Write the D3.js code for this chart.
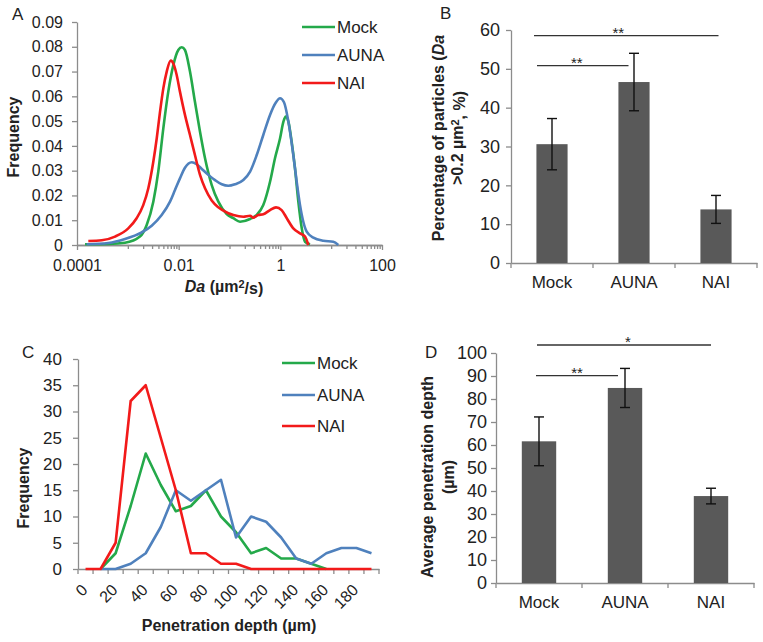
<!DOCTYPE html>
<html><head><meta charset="utf-8">
<script src="https://cdn.jsdelivr.net/npm/d3@7"></script>
<style>
body{margin:0;background:#fff}
svg text{font-family:"Liberation Sans",Arial,sans-serif;fill:#222}
</style></head><body>
<svg id="c" width="763" height="642"></svg>
<script>
// ---------------- DATA ----------------
const groups = ["Mock", "AUNA", "NAI"];

// Panel A: Da (µm²/s) vs frequency
const daMock   = [1.44e-4, 4.13e-4, 8.8e-4, 1.73e-3, 2.35e-3, 3.17e-3, 3.97e-3, 4.99e-3, 6.25e-3, 7.85e-3, 9.84e-3, 0.0115, 0.0133, 0.0167, 0.0209, 0.0263, 0.033, 0.0447, 0.0603, 0.088, 0.119, 0.161, 0.254, 0.343, 0.462, 0.627, 0.785, 0.986, 1.15, 1.28, 1.44, 1.67, 1.94, 2.26, 2.64, 3.06, 3.84];
const freqMock = [0.0003, 0.0004, 0.0009, 0.0034, 0.0081, 0.0175, 0.0296, 0.0471, 0.0619, 0.0726, 0.0787, 0.0798, 0.0787, 0.070, 0.0578, 0.0457, 0.035, 0.0242, 0.0175, 0.0125, 0.0108, 0.0094, 0.0105, 0.0121, 0.0161, 0.0255, 0.035, 0.043, 0.0498, 0.0518, 0.0498, 0.0417, 0.031, 0.0175, 0.0067, 0.0013, 0.0003];
const daAUNA   = [1.55e-4, 4.13e-4, 8.8e-4, 1.87e-3, 2.95e-3, 4.63e-3, 6.76e-3, 8.47e-3, 0.0106, 0.0133, 0.0181, 0.0226, 0.0285, 0.0383, 0.0519, 0.0705, 0.0949, 0.128, 0.187, 0.254, 0.343, 0.462, 0.627, 0.822, 0.986, 1.18, 1.44, 1.80, 2.10, 2.44, 2.83, 3.30, 4.46, 7.01, 11.0, 13.8];
const freqAUNA = [0.0003, 0.0008, 0.0024, 0.0051, 0.0078, 0.0121, 0.0175, 0.0222, 0.0269, 0.0312, 0.0334, 0.0326, 0.0307, 0.0283, 0.0262, 0.0245, 0.0239, 0.0245, 0.0262, 0.0296, 0.0363, 0.0444, 0.0525, 0.0576, 0.0592, 0.0576, 0.0498, 0.0363, 0.0255, 0.0161, 0.0094, 0.0054, 0.003, 0.0017, 0.0013, 0];
const daNAI    = [1.67e-4, 3.06e-4, 5.6e-4, 1.02e-3, 1.49e-3, 2.01e-3, 2.53e-3, 3.17e-3, 3.70e-3, 4.30e-3, 4.99e-3, 5.82e-3, 6.97e-3, 8.09e-3, 9.14e-3, 0.0106, 0.0133, 0.0167, 0.0209, 0.0263, 0.033, 0.0447, 0.0603, 0.0949, 0.119, 0.187, 0.254, 0.294, 0.369, 0.462, 0.627, 0.822, 1.06, 1.34, 1.80, 2.44, 3.06, 3.55];
const freqNAI  = [0.0016, 0.0019, 0.0034, 0.0067, 0.0108, 0.0161, 0.0229, 0.0336, 0.043, 0.0538, 0.0632, 0.070, 0.0744, 0.0726, 0.0686, 0.0619, 0.0525, 0.0444, 0.0363, 0.0283, 0.0229, 0.018, 0.0152, 0.0128, 0.0121, 0.0114, 0.0118, 0.011, 0.0121, 0.0124, 0.0141, 0.0152, 0.0141, 0.0108, 0.0067, 0.0047, 0.0034, 0];
const freqTicks = [0, 0.01, 0.02, 0.03, 0.04, 0.05, 0.06, 0.07, 0.08, 0.09];
const daTicks = [1e-4, 1e-2, 1, 100];
const daTickLabels = ["0.0001", "0.01", "1", "100"];
const daMinorTicks = [0.001, 0.002, 0.003, 0.004, 0.005, 0.006, 0.007, 0.008, 0.009,
                      0.1, 0.2, 0.3, 0.4, 0.5, 0.6, 0.7, 0.8, 0.9,
                      10, 20, 30, 40, 50, 60, 70, 80, 90];

// Panel B: percentage of particles with Da > 0.2
const pctMean = [30.6, 46.6, 13.8];
const pctErr  = [6.6, 7.4, 3.6];
const pctTicks = [0, 10, 20, 30, 40, 50, 60];
const sigB = [["Mock", "NAI", "**"], ["Mock", "AUNA", "**"]];

// Panel C: penetration depth distribution
const depthCats = [0, 10, 20, 30, 40, 50, 60, 70, 80, 90, 100, 110, 120, 130, 140, 150, 160, 170, 180, 190];
const depthMock = [null, 0, 3, 12, 22, 16, 11, 12, 15, 10, 7, 3, 4, 2, 2, 1, 0, null, null, null];
const depthAUNA = [null, 0, 0, 1, 3, 8, 15, 13, 15, 17, 6, 10, 9, 6, 2, 1, 3, 4, 4, 3];
const depthNAI  = [0, 0, 5, 32, 35, 25, 15, 3, 3, 1, 1, 0, 0, 0, 0, 0, 0, 0, 0, 0];
const countTicks = [0, 5, 10, 15, 20, 25, 30, 35, 40];

// Panel D: average penetration depth
const depthMean = [61.6, 84.8, 37.8];
const depthErr  = [10.6, 8.5, 3.4];
const avgTicks = [0, 10, 20, 30, 40, 50, 60, 70, 80, 90, 100];
const sigD = [["Mock", "NAI", "*"], ["Mock", "AUNA", "**"]];

// ---------------- STYLE ----------------
const FONT = '"Liberation Sans", Arial, sans-serif';
const colors = {Mock: "#24a94a", AUNA: "#4f81bd", NAI: "#f21a1a"};
const AXIS = "#8c8c8c";
const svg = d3.select("#c");

function styleAxis(g, size) {
  g.attr("font-family", null).attr("font-size", null);
  g.select(".domain").attr("stroke", AXIS).attr("stroke-width", 1.3);
  g.selectAll(".tick line").attr("stroke", AXIS).attr("stroke-width", 1.3);
  g.selectAll(".tick text").attr("fill", "#222").style("font-family", FONT).style("font-size", size + "px");
}
function label(x, y, t, size) {
  return svg.append("text").attr("x", x).attr("y", y).style("font-size", size + "px").text(t);
}

// ---------------- PANEL A ----------------
const xA = d3.scaleLog().domain([1e-4, 100]).range([77, 382]);
const yA = d3.scaleLinear().domain([0, 0.09]).range([245, 22]);
svg.append("g").attr("transform", "translate(77,0)")
  .call(d3.axisLeft(yA).tickValues(freqTicks).tickFormat(v => v === 0 ? "0" : d3.format(".2f")(v))
    .tickSize(5).tickSizeOuter(0).tickPadding(9))
  .call(styleAxis, 16);
svg.append("g").attr("transform", "translate(0,245)")
  .call(d3.axisBottom(xA).tickValues(daMinorTicks).tickFormat("").tickSize(4).tickSizeOuter(0))
  .call(styleAxis, 16);
svg.append("g").attr("transform", "translate(0,245)")
  .call(d3.axisBottom(xA).tickValues(daTicks).tickFormat((d, i) => daTickLabels[i])
    .tickSize(5).tickSizeOuter(0).tickPadding(10))
  .call(styleAxis, 16);

const lineA = d3.line().x(d => xA(d[0])).y(d => yA(d[1])).curve(d3.curveMonotoneX);
const seriesA = [
  ["Mock", d3.zip(daMock, freqMock)],
  ["AUNA", d3.zip(daAUNA, freqAUNA)],
  ["NAI", d3.zip(daNAI, freqNAI)]
];
svg.append("g").selectAll("path").data(seriesA).join("path")
  .attr("d", d => lineA(d[1])).attr("fill", "none")
  .attr("stroke", d => colors[d[0]]).attr("stroke-width", 2.6).attr("stroke-linejoin", "round");

// legend A
function legend(x0, ys) {
  groups.forEach((g, i) => {
    svg.append("line").attr("x1", x0).attr("x2", x0 + 33).attr("y1", ys[i]).attr("y2", ys[i])
      .attr("stroke", colors[g]).attr("stroke-width", 2.6);
    svg.append("text").attr("x", x0 + 35).attr("y", ys[i]).attr("dy", "0.36em")
      .style("font-size", "17px").text(g);
  });
}
legend(302, [27, 55, 83]);

// titles A
svg.append("text").attr("transform", "translate(18.5,137) rotate(-90)").attr("text-anchor", "middle")
  .style("font-size", "16px").style("font-weight", "bold").text("Frequency");
{
  const t = svg.append("text").attr("x", 224).attr("y", 292).attr("text-anchor", "middle")
    .style("font-size", "16px").style("font-weight", "bold");
  t.append("tspan").style("font-style", "italic").text("Da");
  t.append("tspan").text(" (µm");
  t.append("tspan").attr("dy", "-0.4em").style("font-size", "11px").text("2");
  t.append("tspan").attr("dy", "0.4em").text("/s)");
}
label(12, 20, "A", 17);

// ---------------- BAR PANELS ----------------
function barPanel(opt) {
  const x = d3.scaleBand().domain(groups).range(opt.xr).paddingInner(opt.pad).paddingOuter(opt.pad / 2);
  const y = d3.scaleLinear().domain(opt.dom).range(opt.yr);
  svg.append("g").attr("transform", `translate(${opt.xr[0]},0)`)
    .call(d3.axisLeft(y).tickValues(opt.ticks).tickSize(5).tickSizeOuter(0).tickPadding(opt.tickPad))
    .call(styleAxis, 18);
  // x axis line + category labels
  svg.append("g").attr("transform", `translate(0,${opt.yr[0]})`)
    .call(d3.axisBottom(x).tickSize(0).tickSizeOuter(0).tickPadding(opt.catPad))
    .call(styleAxis, 17);
  const step = x.step();
  svg.append("g").selectAll("line").data(d3.range(groups.length + 1)).join("line")
    .attr("x1", i => opt.xr[0] + i * step).attr("x2", i => opt.xr[0] + i * step)
    .attr("y1", opt.yr[0]).attr("y2", opt.yr[0] + 5).attr("stroke", AXIS).attr("stroke-width", 1.3);
  // bars
  svg.append("g").selectAll("rect").data(groups).join("rect")
    .attr("x", g => x(g)).attr("width", x.bandwidth())
    .attr("y", (g, i) => y(opt.mean[i])).attr("height", (g, i) => y(0) - y(opt.mean[i]))
    .attr("fill", "#595959");
  // error bars
  const eb = svg.append("g").attr("stroke", "#111").attr("stroke-width", 1.4);
  groups.forEach((g, i) => {
    const cx = x(g) + x.bandwidth() / 2;
    const lo = y(opt.mean[i] - opt.err[i]), hi = y(opt.mean[i] + opt.err[i]);
    eb.append("line").attr("x1", cx).attr("x2", cx).attr("y1", lo).attr("y2", hi);
    eb.append("line").attr("x1", cx - 5).attr("x2", cx + 5).attr("y1", lo).attr("y2", lo);
    eb.append("line").attr("x1", cx - 5).attr("x2", cx + 5).attr("y1", hi).attr("y2", hi);
  });
  // significance
  opt.sig.forEach((s, k) => {
    const lay = opt.sigLayout[k];
    const x1 = x(s[0]) + x.bandwidth() / 2 + lay.d1;
    const x2 = x(s[1]) + x.bandwidth() / 2 + lay.d2;
    svg.append("line").attr("x1", x1).attr("x2", x2).attr("y1", lay.y).attr("y2", lay.y)
      .attr("stroke", "#333").attr("stroke-width", 1.3);
    svg.append("text").attr("x", (x1 + x2) / 2 + lay.dx).attr("y", lay.y + 2)
      .attr("text-anchor", "middle").style("font-size", "15px").text(s[2]);
  });
  return {x, y};
}

// Panel B
barPanel({xr: [511, 757], yr: [263, 30], dom: [0, 60], pad: 0.62, ticks: pctTicks, tickPad: 6, catPad: 13,
  mean: pctMean, err: pctErr, sig: sigB,
  sigLayout: [{y: 35.7, d1: -18, d2: 2.5, dx: -8}, {y: 65.7, d1: -15, d2: -5.5, dx: -6}]});
{
  const t = svg.append("text").attr("transform", "translate(444,138) rotate(-90)").attr("text-anchor", "middle")
    .style("font-size", "16px").style("font-weight", "bold");
  t.append("tspan").attr("x", 0).attr("y", 0).text("Percentage of particles (");
  t.append("tspan").style("font-style", "italic").text("Da");
  t.append("tspan").attr("x", 0).attr("y", 19).text(">0.2 µm");
  t.append("tspan").attr("dy", "-0.4em").style("font-size", "11px").text("2");
  t.append("tspan").attr("dy", "0.4em").text(", %)");
}
label(440, 19, "B", 17);

// Panel D
barPanel({xr: [496, 754], yr: [583, 353], dom: [0, 100], pad: 0.6, ticks: avgTicks, tickPad: 4, catPad: 13,
  mean: depthMean, err: depthErr, sig: sigD,
  sigLayout: [{y: 345, d1: -2, d2: 0, dx: 4}, {y: 375.7, d1: -3, d2: -7, dx: 0}]});
{
  const t = svg.append("text").attr("transform", "translate(433,477) rotate(-90)").attr("text-anchor", "middle")
    .style("font-size", "16px").style("font-weight", "bold");
  t.append("tspan").attr("x", 0).attr("y", 0).text("Average penetration depth");
  t.append("tspan").attr("x", 0).attr("y", 21).text("(µm)");
}
label(425, 358, "D", 17);

// ---------------- PANEL C ----------------
const xC = d3.scaleBand().domain(depthCats).range([78, 379]).padding(0);
const yC = d3.scaleLinear().domain([0, 40]).range([569, 359]);
svg.append("g").attr("transform", "translate(78,0)")
  .call(d3.axisLeft(yC).tickValues(countTicks).tickSize(5).tickSizeOuter(0).tickPadding(11))
  .call(styleAxis, 17);
svg.append("g").attr("transform", "translate(0,569)")
  .call(d3.axisBottom(xC).tickValues([]).tickSize(0).tickSizeOuter(0))
  .call(styleAxis, 16);
const stepC = xC.step();
svg.append("g").selectAll("line").data(d3.range(depthCats.length + 1)).join("line")
  .attr("x1", i => 78 + i * stepC).attr("x2", i => 78 + i * stepC)
  .attr("y1", 569).attr("y2", 574).attr("stroke", AXIS).attr("stroke-width", 1.3);
svg.append("g").selectAll("text").data(depthCats.filter((c, i) => i % 2 === 0)).join("text")
  .attr("transform", c => `translate(${xC(c) + xC.bandwidth() / 2 - 1},587) rotate(-45)`)
  .attr("text-anchor", "end").attr("dy", "0.35em").style("font-size", "16px").text(c => c);

const lineC = d3.line().defined(d => d[1] != null)
  .x(d => xC(d[0]) + xC.bandwidth() / 2).y(d => yC(d[1]));
const seriesC = [
  ["Mock", d3.zip(depthCats, depthMock)],
  ["AUNA", d3.zip(depthCats, depthAUNA)],
  ["NAI", d3.zip(depthCats, depthNAI)]
];
svg.append("g").selectAll("path").data(seriesC).join("path")
  .attr("d", d => lineC(d[1])).attr("fill", "none")
  .attr("stroke", d => colors[d[0]]).attr("stroke-width", 2.6).attr("stroke-linejoin", "round");
legend(282, [363, 395, 426]);

svg.append("text").attr("transform", "translate(28.5,488) rotate(-90)").attr("text-anchor", "middle")
  .style("font-size", "16px").style("font-weight", "bold").text("Frequency");
svg.append("text").attr("x", 229).attr("y", 631).attr("text-anchor", "middle")
  .style("font-size", "16px").style("font-weight", "bold").text("Penetration depth (µm)");
label(22, 358, "C", 17);
</script>
</body></html>
